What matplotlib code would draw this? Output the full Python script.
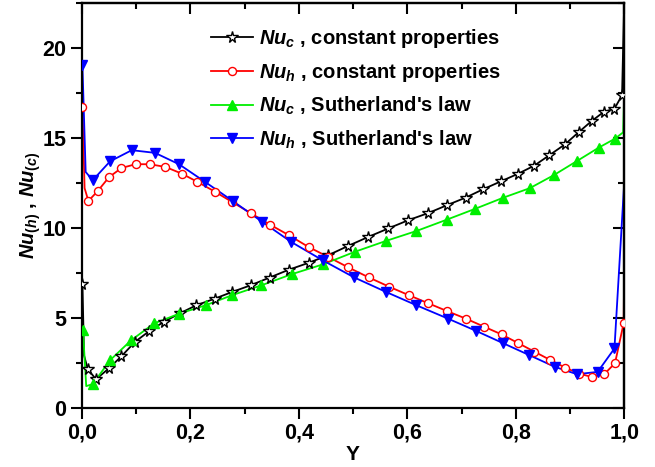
import matplotlib
matplotlib.use("Agg")
import matplotlib.pyplot as plt
from matplotlib.ticker import MultipleLocator, FuncFormatter

plt.rcParams["font.family"] = ["Liberation Sans", "DejaVu Sans"]
plt.rcParams["font.weight"] = "bold"
plt.rcParams["mathtext.fontset"] = "custom"
plt.rcParams["mathtext.it"] = "Liberation Sans:italic:bold"
plt.rcParams["mathtext.rm"] = "Liberation Sans:bold"
plt.rcParams["mathtext.bf"] = "Liberation Sans:bold"

# Nu_c, constant properties (stars)
nuc_const_x = [0.001, 0.011, 0.026, 0.050, 0.073, 0.098, 0.124, 0.151, 0.181, 0.211,
               0.245, 0.277, 0.311, 0.346, 0.381, 0.418, 0.454, 0.491, 0.528, 0.565,
               0.602, 0.639, 0.673, 0.708, 0.740, 0.772, 0.805, 0.834, 0.862, 0.891,
               0.916, 0.940, 0.962, 0.982, 0.996]
nuc_const_y = [6.9, 2.14, 1.58, 2.19, 2.86, 3.66, 4.25, 4.77, 5.25, 5.69,
               6.06, 6.43, 6.80, 7.23, 7.66, 8.05, 8.47, 8.99, 9.49, 9.96,
               10.42, 10.82, 11.25, 11.68, 12.14, 12.57, 13.01, 13.45, 14.03, 14.64,
               15.31, 15.93, 16.43, 16.62, 17.36]
nuc_const_wall_x = [0.004, 1.0]
nuc_const_wall_y = [2.9, 22.6]

# Nu_h, constant properties (circles)
nuh_const_x = [0.001, 0.012, 0.029, 0.050, 0.073, 0.099, 0.125, 0.154, 0.184, 0.213,
               0.245, 0.277, 0.312, 0.347, 0.382, 0.418, 0.454, 0.491, 0.529, 0.566,
               0.603, 0.639, 0.674, 0.708, 0.741, 0.774, 0.805, 0.834, 0.863, 0.891,
               0.916, 0.940, 0.963, 0.983, 0.999]
nuh_const_y = [16.71, 11.49, 12.03, 12.81, 13.32, 13.53, 13.53, 13.38, 13.01, 12.55,
               12.01, 11.43, 10.80, 10.17, 9.58, 8.93, 8.38, 7.80, 7.24, 6.73,
               6.25, 5.80, 5.36, 4.95, 4.51, 4.07, 3.58, 3.12, 2.66, 2.23,
               1.90, 1.71, 1.86, 2.47, 4.70]
nuh_const_wall_x = [0.005, 1.0]
nuh_const_wall_y = [12.2, 8.0]

# Nu_c, Sutherland's law (up triangles)
nuc_suth_x = [0.002, 0.020, 0.052, 0.091, 0.133, 0.180, 0.228, 0.277, 0.331, 0.387,
              0.444, 0.503, 0.561, 0.617, 0.673, 0.725, 0.777, 0.826, 0.870, 0.913,
              0.953, 0.983]
nuc_suth_y = [4.34, 1.31, 2.64, 3.75, 4.68, 5.23, 5.69, 6.25, 6.80, 7.42,
              7.96, 8.66, 9.27, 9.82, 10.45, 11.05, 11.67, 12.20, 12.92, 13.71,
              14.45, 14.95]
nuc_suth_wall_x = [0.008, 0.998, 1.0]
nuc_suth_wall_y = [1.2, 15.3, 17.4]

# Nu_h, Sutherland's law (down triangles)
nuh_suth_x = [0.001, 0.020, 0.052, 0.092, 0.135, 0.179, 0.227, 0.278, 0.332, 0.386,
              0.444, 0.502, 0.561, 0.617, 0.675, 0.726, 0.777, 0.825, 0.872, 0.913,
              0.951, 0.982]
nuh_suth_y = [19.03, 12.64, 13.69, 14.31, 14.16, 13.53, 12.55, 11.49, 10.34, 9.21,
              8.19, 7.24, 6.43, 5.69, 4.95, 4.28, 3.58, 2.92, 2.27, 1.86,
              1.99, 3.29]
nuh_suth_wall_x = [0.007, 1.0]
nuh_suth_wall_y = [13.1, 12.5]


def merged(x, y, wx, wy):
    pts = sorted(zip(list(x) + list(wx), list(y) + list(wy)))
    return [p[0] for p in pts], [p[1] for p in pts]


fig = plt.figure(figsize=(6.55, 4.67), dpi=100)
ax = fig.add_axes([0.125, 0.127, 0.828, 0.867])

series = [
    (nuc_const_x, nuc_const_y, nuc_const_wall_x, nuc_const_wall_y, "black", "*", "white", 8.5,
     r"$Nu_c$ , constant properties"),
    (nuh_const_x, nuh_const_y, nuh_const_wall_x, nuh_const_wall_y, "#ff0000", "o", "white", 5.8,
     r"$Nu_h$ , constant properties"),
    (nuc_suth_x, nuc_suth_y, nuc_suth_wall_x, nuc_suth_wall_y, "#00ee00", "^", "#00ee00", 7.5,
     r"$Nu_c$ , Sutherland's law"),
    (nuh_suth_x, nuh_suth_y, nuh_suth_wall_x, nuh_suth_wall_y, "#0000ff", "v", "#0000ff", 7.5,
     r"$Nu_h$ , Sutherland's law"),
]

handles = []
for x, y, wx, wy, col, mk, fc, ms, lab in series:
    lx, ly = merged(x, y, wx, wy)
    ax.plot(lx, ly, color=col, lw=1.3, zorder=2)
    ax.plot(x, y, ls="none", marker=mk, ms=ms, mfc=fc, mec=col, mew=1.0, zorder=3)
    h, = ax.plot([], [], color=col, lw=1.3, marker=mk, ms=ms, mfc=fc, mec=col, mew=1.0)
    handles.append((h, lab))

ax.set_xlim(0, 1.0)
ax.set_ylim(0, 22.5)

ax.xaxis.set_major_locator(MultipleLocator(0.2))
ax.xaxis.set_minor_locator(MultipleLocator(0.1))
ax.yaxis.set_major_locator(MultipleLocator(5))
ax.yaxis.set_minor_locator(MultipleLocator(2.5))
ax.xaxis.set_major_formatter(FuncFormatter(lambda v, p: f"{v:.1f}".replace(".", ",")))
ax.yaxis.set_major_formatter(FuncFormatter(lambda v, p: f"{v:.0f}"))

ax.tick_params(which="major", direction="out", length=8, width=1.5, labelsize=15.5, pad=3)
ax.tick_params(which="minor", direction="out", length=4.5, width=1.5)

# top / right mirrored ticks pointing inward
top = ax.secondary_xaxis("top")
top.xaxis.set_major_locator(MultipleLocator(0.2))
top.xaxis.set_minor_locator(MultipleLocator(0.1))
top.tick_params(which="major", direction="in", length=8, width=1.5, labeltop=False)
top.tick_params(which="minor", direction="in", length=4.5, width=1.5)
right = ax.secondary_yaxis("right")
right.yaxis.set_major_locator(MultipleLocator(5))
right.yaxis.set_minor_locator(MultipleLocator(2.5))
right.tick_params(which="major", direction="in", length=8, width=1.5, labelright=False)
right.tick_params(which="minor", direction="in", length=4.5, width=1.5)

for a in (ax, top, right):
    for s in a.spines.values():
        s.set_linewidth(1.6)

ax.set_xlabel("Y", fontsize=15, fontweight="bold", labelpad=1)
ax.set_ylabel(r"$Nu_{(h)}$ , $Nu_{(c)}$", fontsize=14.5, fontweight="bold", labelpad=0)

ax.legend([h for h, _ in handles], [l for _, l in handles], loc="upper left",
          bbox_to_anchor=(0.193, 1.0), frameon=False, fontsize=14.5,
          handlelength=2.1, labelspacing=0.55, handletextpad=0.3, borderaxespad=0.8)

fig.savefig("out.png", dpi=100)
